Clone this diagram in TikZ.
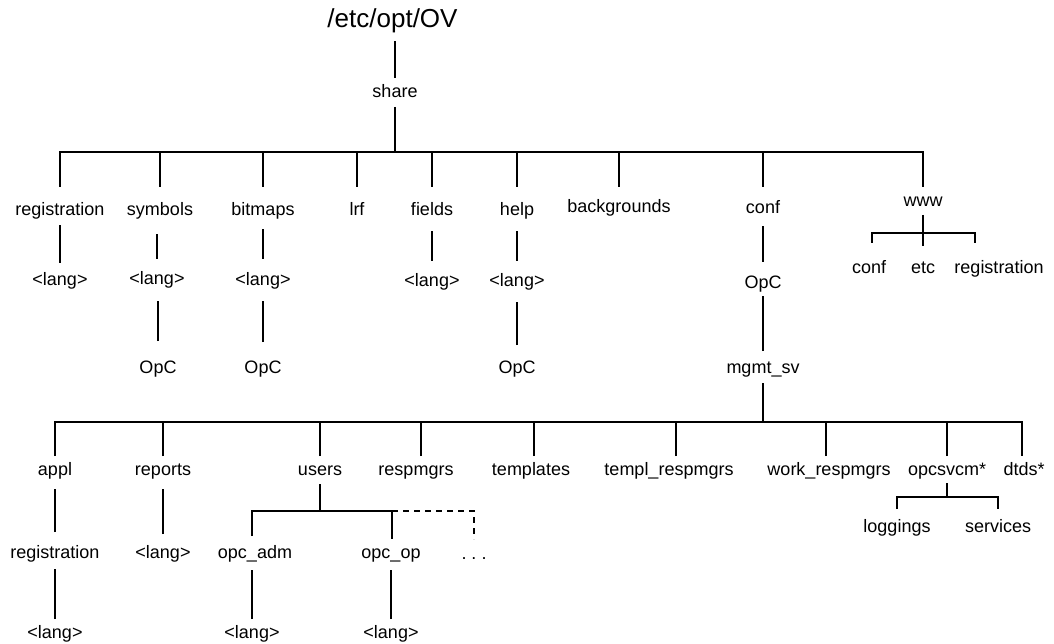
\documentclass[tikz,border=0pt]{standalone}
\usepackage{fontspec}
\setmainfont{Liberation Sans}
\newcommand{\vlink}[2]{\draw (#2.north) -- (#2.north |- #1.south);}
\newcommand{\busleg}[3]{\path (#1.north) ++(#2,0) coordinate (#1-leg); \draw (#1-leg) -- (#1-leg |- #3);}
\begin{document}
\begin{tikzpicture}[x=1pt, y=-1pt, line width=2pt,
  lb/.style 2 args={anchor=base, inner sep=0pt, text height=#1pt, text depth=#2pt, font=\fontsize{18}{20}\selectfont},
  rootlbl/.style={anchor=base, inner sep=0pt, text height=20pt, text depth=12pt, font=\fontsize{26}{30}\selectfont},
  dashedlink/.style={dash pattern=on 6pt off 5pt}]
\useasboundingbox (0,0) rectangle (1054,644);

% top
\node[rootlbl] (root) at (392.5,28) {/etc/opt/OV};
\node[lb={19}{8}] (share) at (395,98) {share};
\draw (share.north) -- (share.north |- root.south);
\coordinate (b1) at (395,152);
\draw (share.south) -- (b1);

% row 1
\node[lb={28}{8}]  (registration) at (60,216) {registration};
\node[lb={28}{17}] (symbols) at (160,216) {symbols};
\node[lb={28}{12}] (bitmaps) at (263,216) {bitmaps};
\node[lb={28}{0}]  (lrf) at (357,216) {lrf};
\node[lb={28}{14}] (fields) at (432,216) {fields};
\node[lb={28}{14}] (help) at (517,216) {help};
\node[lb={25}{0}]  (backgrounds) at (619,213) {backgrounds};
\node[lb={26}{11}] (conf) at (763,214) {conf};
\node[lb={19}{7}]  (www) at (923,207) {www};

\draw (registration.north) |- (b1) -| (www.north);
\busleg{symbols}{0}{b1}
\busleg{bitmaps}{0}{b1}
\busleg{lrf}{0}{b1}
\busleg{fields}{0}{b1}
\busleg{help}{0}{b1}
\busleg{backgrounds}{0}{b1}
\busleg{conf}{0}{b1}

% row 2
\node[lb={21}{0}]  (reglang) at (60,285) {<lang>};
\node[lb={24}{16}] (symlang) at (157,284) {<lang>};
\node[lb={25}{15}] (bitlang) at (263,285) {<lang>};
\node[lb={24}{0}]  (fieldlang) at (432,286) {<lang>};
\node[lb={24}{15}] (helplang) at (517,286) {<lang>};
\node[lb={25}{7}]  (confopc) at (763,288) {OpC};
\vlink{registration}{reglang}
\vlink{symbols}{symlang}
\vlink{bitmaps}{bitlang}
\vlink{fields}{fieldlang}
\vlink{help}{helplang}
\vlink{conf}{confopc}

% www subtree
\node[lb={29}{0}] (wconf) at (869,273) {conf};
\node[lb={26}{0}] (wetc) at (923,273) {etc};
\node[lb={29}{0}] (wreg) at (999,273) {registration};
\coordinate (wb) at (923,233);
\path (wconf.north) ++(3,0) coordinate (wconf-leg);
\path (wreg.north) ++(-24,0) coordinate (wreg-leg);
\draw (wconf-leg) |- (wb) -| (wreg-leg);
\draw (www.south) -- (wetc.north);

% row 3
\node[lb={31}{0}] (symopc) at (158,373) {OpC};
\node[lb={30}{0}] (bitopc) at (263,373) {OpC};
\node[lb={27}{0}] (helpopc) at (517,373) {OpC};
\node[lb={21}{9}] (mgmt) at (763,373) {mgmt\_sv};
\vlink{symlang}{symopc}
\vlink{bitlang}{bitopc}
\vlink{helplang}{helpopc}
\vlink{confopc}{mgmt}

% row 4
\coordinate (b3) at (763,422);
\draw (mgmt.south) -- (b3);
\node[lb={18}{13}] (appl) at (55,475) {appl};
\node[lb={18}{13}] (reports) at (163,475) {reports};
\node[lb={18}{8}]  (users) at (320,475) {users};
\node[lb={18}{0}]  (respmgrs) at (416,475) {respmgrs};
\node[lb={18}{0}]  (templates) at (531,475) {templates};
\node[lb={18}{0}]  (templresp) at (669,475) {templ\_respmgrs};
\node[lb={18}{0}]  (workresp) at (829,475) {work\_respmgrs};
\node[lb={18}{7}]  (opcsvcm) at (947,475) {opcsvcm*};
\node[lb={18}{0}]  (dtds) at (1024,475) {dtds*};
\path (dtds.north) ++(-2,0) coordinate (dtds-leg);
\draw (appl.north) |- (b3) -| (dtds-leg);
\busleg{reports}{0}{b3}
\busleg{users}{0}{b3}
\busleg{respmgrs}{5}{b3}
\busleg{templates}{3}{b3}
\busleg{templresp}{7}{b3}
\busleg{workresp}{-3}{b3}
\busleg{opcsvcm}{0}{b3}

% row 5
\node[lb={25}{10}] (applreg) at (55,558) {registration};
\node[lb={23}{0}]  (replang) at (163,558) {<lang>};
\node[lb={21}{11}] (opcadm) at (255,558) {opc\_adm};
\node[lb={18}{11}] (opcop) at (391,558) {opc\_op};
\node[lb={19}{0}]  (dots) at (474,559) {.\ .\ .};
\node[lb={22}{0}]  (loggings) at (897,532) {loggings};
\node[lb={22}{0}]  (services) at (998,532) {services};
\vlink{appl}{applreg}
\vlink{reports}{replang}

% users subtree
\coordinate (ub) at (320,511);
\draw (users.south) -- (ub);
\path (opcadm.north) ++(-3,0) coordinate (opcadm-leg);
\path (opcop.north) ++(1,0) coordinate (opcop-leg);
\draw (opcadm-leg) |- (ub) -| (opcop-leg);
\draw[dashedlink] (opcop-leg |- ub) -| (dots.north);

% opcsvcm subtree
\coordinate (ob) at (947,497);
\draw (opcsvcm.south) -- (ob);
\draw (loggings.north) |- (ob) -| (services.north);

% row 6
\node[lb={18}{0}] (appllang) at (55,638) {<lang>};
\node[lb={18}{0}] (admlang) at (252,638) {<lang>};
\node[lb={18}{0}] (oplang) at (391,638) {<lang>};
\vlink{applreg}{appllang}
\path (opcadm.south) ++(-3,0) coordinate (opcadm-low);
\draw (admlang.north) -- (admlang.north |- opcadm-low);
\vlink{opcop}{oplang}
\end{tikzpicture}
\end{document}
